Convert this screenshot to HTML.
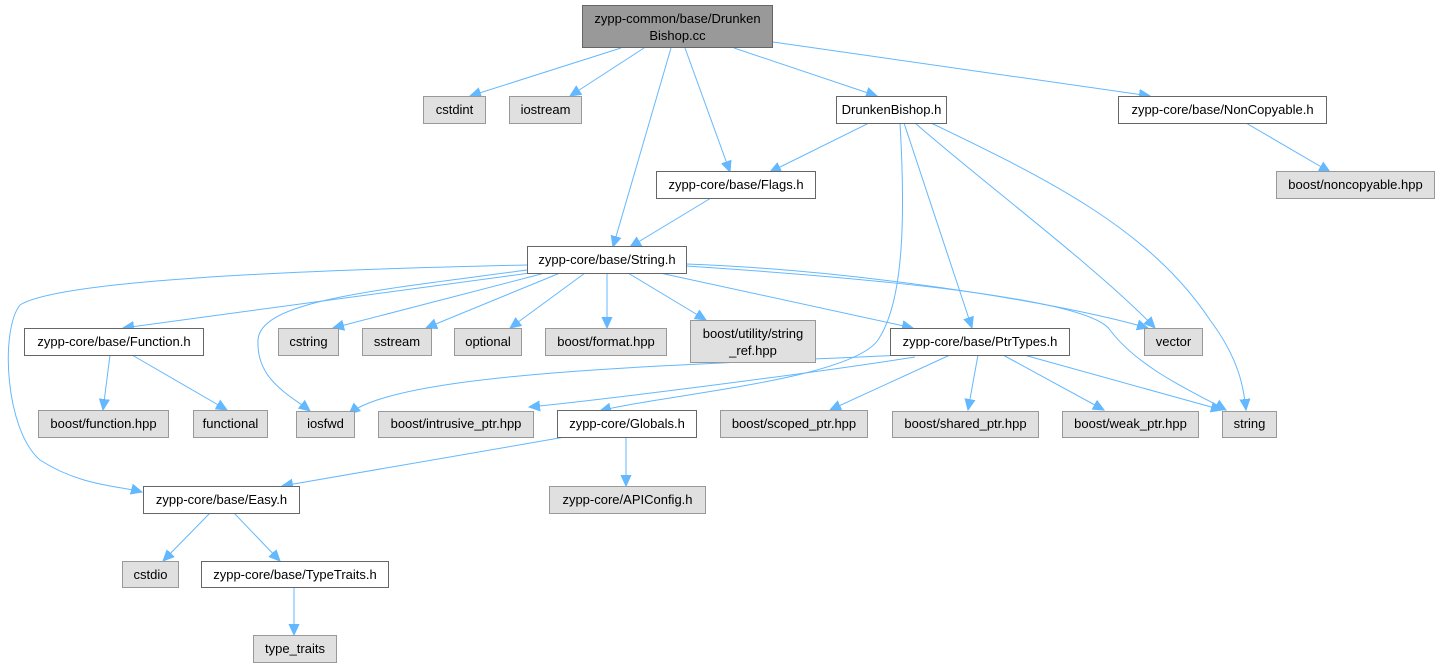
<!DOCTYPE html>
<html><head><meta charset="utf-8"><style>
html,body{margin:0;padding:0;background:#fff;width:1440px;height:667px;overflow:hidden}
svg text{font-family:"Liberation Sans",Helvetica,Arial,sans-serif;font-size:13px;fill:#000;text-anchor:middle}
.g{fill:#e0e0e0;stroke:#999;stroke-width:1}
.w{fill:#fff;stroke:#666;stroke-width:1}
.r{fill:#999;stroke:#666;stroke-width:1}
.e{fill:none;stroke:#63b8ff;stroke-width:1;marker-end:url(#a)}
</style></head><body>
<svg width="1440" height="667" viewBox="0 0 1440 667" xmlns="http://www.w3.org/2000/svg">
<defs><marker id="a" markerWidth="13" markerHeight="12" refX="11" refY="6" orient="auto" markerUnits="userSpaceOnUse"><path d="M0,1 L11,6 L0,11 Z" fill="#63b8ff" stroke="#63b8ff"/></marker></defs>
<path class="e" d="M621,48 L470,96"/>
<path class="e" d="M644,48 L570,96"/>
<path class="e" d="M671,48 L613,247"/>
<path class="e" d="M685,48 L730,172"/>
<path class="e" d="M734,48 L877,96"/>
<path class="e" d="M773,42 L1150,96"/>
<path class="e" d="M869,123 L770,172"/>
<path class="e" d="M900,123 C905,210 905,300 878,340 C850,380 660,395 600,411"/>
<path class="e" d="M904,123 L972,328"/>
<path class="e" d="M915,123 C980,180 1100,270 1155,328"/>
<path class="e" d="M931,123 C1050,180 1150,230 1210,320 C1240,360 1244,390 1246,410"/>
<path class="e" d="M1246,123 L1330,172"/>
<path class="e" d="M711,198 L630,247"/>
<path class="e" d="M530,273 L123,328"/>
<path class="e" d="M545,273 L333,328"/>
<path class="e" d="M560,273 L426,328"/>
<path class="e" d="M585,273 L510,328"/>
<path class="e" d="M607,273 L607,328"/>
<path class="e" d="M628,273 L706,320"/>
<path class="e" d="M660,273 L913,328"/>
<path class="e" d="M686,264 C850,270 1050,300 1148,328"/>
<path class="e" d="M686,266 C900,280 1090,300 1110,330 C1140,370 1200,395 1226,410"/>
<path class="e" d="M527,265 C300,270 60,280 20,305 C0,330 5,430 40,460 C80,486 120,486 142,492"/>
<path class="e" d="M527,270 C380,290 260,300 258,340 C256,380 290,395 310,411"/>
<path class="e" d="M110,355 L103,410"/>
<path class="e" d="M132,355 L227,410"/>
<path class="e" d="M902,355 C700,365 400,370 349,414"/>
<path class="e" d="M915,357 C800,375 600,400 529,407"/>
<path class="e" d="M950,355 L830,410"/>
<path class="e" d="M978,355 L968,410"/>
<path class="e" d="M1003,355 L1104,410"/>
<path class="e" d="M1024,355 L1222,410"/>
<path class="e" d="M565,437 L282,486"/>
<path class="e" d="M626,437 L626,486"/>
<path class="e" d="M210,513 L163,561"/>
<path class="e" d="M234,513 L280,561"/>
<path class="e" d="M294,587 L294,635"/>
<rect class="r" x="582.5" y="5.5" width="190" height="42"/><text x="677.5" y="23">zypp-common/base/Drunken</text><text x="677.5" y="40">Bishop.cc</text>
<rect class="g" x="423.5" y="96.5" width="62" height="27"/><text x="454.5" y="114">cstdint</text>
<rect class="g" x="509.5" y="96.5" width="72" height="27"/><text x="545.5" y="114">iostream</text>
<rect class="w" x="836.5" y="96.5" width="110" height="27"/><text x="891.5" y="114">DrunkenBishop.h</text>
<rect class="w" x="1118.5" y="96.5" width="208" height="27"/><text x="1222.5" y="114">zypp-core/base/NonCopyable.h</text>
<rect class="g" x="1276.5" y="171.5" width="158" height="27"/><text x="1355.5" y="189">boost/noncopyable.hpp</text>
<rect class="w" x="656.5" y="171.5" width="159" height="27"/><text x="736" y="189">zypp-core/base/Flags.h</text>
<rect class="w" x="527.5" y="246.5" width="159" height="27"/><text x="607" y="264">zypp-core/base/String.h</text>
<rect class="w" x="24.5" y="328.5" width="179" height="27"/><text x="114" y="346">zypp-core/base/Function.h</text>
<rect class="g" x="278.5" y="328.5" width="60" height="27"/><text x="308.5" y="346">cstring</text>
<rect class="g" x="362.5" y="328.5" width="69" height="27"/><text x="397" y="346">sstream</text>
<rect class="g" x="454.5" y="328.5" width="67" height="27"/><text x="488" y="346">optional</text>
<rect class="g" x="545.5" y="328.5" width="121" height="27"/><text x="606" y="346">boost/format.hpp</text>
<rect class="g" x="690.5" y="320.5" width="125" height="42"/><text x="753" y="338">boost/utility/string</text><text x="753" y="355">_ref.hpp</text>
<rect class="w" x="890.5" y="328.5" width="179" height="27"/><text x="980" y="346">zypp-core/base/PtrTypes.h</text>
<rect class="g" x="1144.5" y="328.5" width="58" height="27"/><text x="1173.5" y="346">vector</text>
<rect class="g" x="38.5" y="410.5" width="130" height="27"/><text x="103.5" y="428">boost/function.hpp</text>
<rect class="g" x="193.5" y="410.5" width="74" height="27"/><text x="230.5" y="428">functional</text>
<rect class="g" x="296.5" y="411.5" width="58" height="26"/><text x="325.5" y="428">iosfwd</text>
<rect class="g" x="378.5" y="411.5" width="155" height="26"/><text x="456" y="428">boost/intrusive_ptr.hpp</text>
<rect class="w" x="557.5" y="410.5" width="139" height="27"/><text x="627" y="428">zypp-core/Globals.h</text>
<rect class="g" x="720.5" y="410.5" width="147" height="27"/><text x="794" y="428">boost/scoped_ptr.hpp</text>
<rect class="g" x="892.5" y="411.5" width="146" height="26"/><text x="965.5" y="428">boost/shared_ptr.hpp</text>
<rect class="g" x="1062.5" y="411.5" width="136" height="26"/><text x="1130.5" y="428">boost/weak_ptr.hpp</text>
<rect class="g" x="1222.5" y="411.5" width="54" height="26"/><text x="1249.5" y="428">string</text>
<rect class="w" x="143.5" y="486.5" width="156" height="27"/><text x="221.5" y="504">zypp-core/base/Easy.h</text>
<rect class="g" x="549.5" y="486.5" width="156" height="27"/><text x="627.5" y="504">zypp-core/APIConfig.h</text>
<rect class="g" x="122.5" y="561.5" width="56" height="26"/><text x="150.5" y="579">cstdio</text>
<rect class="w" x="201.5" y="561.5" width="187" height="26"/><text x="295" y="579">zypp-core/base/TypeTraits.h</text>
<rect class="g" x="253.5" y="635.5" width="83" height="27"/><text x="295" y="653">type_traits</text>
</svg>
</body></html>
